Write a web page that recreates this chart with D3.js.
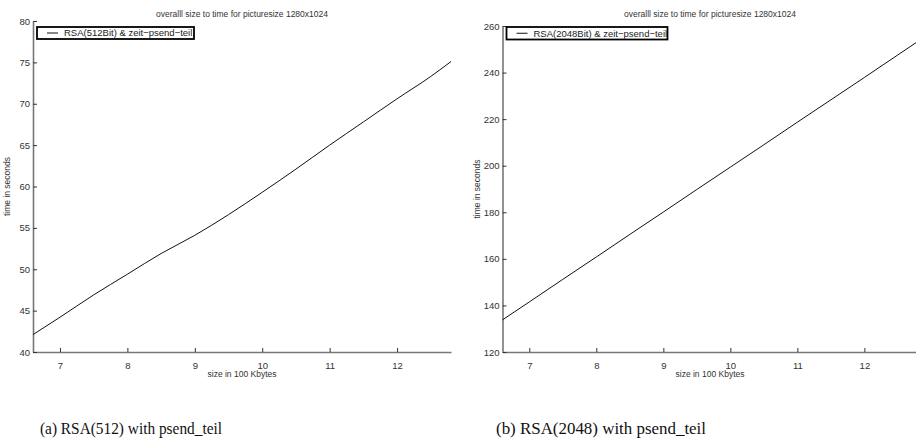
<!DOCTYPE html>
<html><head><meta charset="utf-8">
<script src="https://cdn.jsdelivr.net/npm/d3@7"></script>
<style>body{margin:0;background:#fff}svg{display:block}</style>
</head><body>
<script>
const titleText = "overalll size to time for picturesize 1280x1024";
const xLabel = "size in 100 Kbytes";
const yLabel = "time in seconds";
const xTicks = [7, 8, 9, 10, 11, 12];
const sizes = [6.6, 7, 7.5, 8, 8.5, 9, 9.5, 10, 10.5, 11, 11.5, 12, 12.5, 12.8];
const rsa512 = [42.1, 44.2, 46.9, 49.4, 51.9, 54.1, 56.6, 59.3, 62.1, 65.0, 67.8, 70.6, 73.3, 75.1];
const rsa2048 = [133.8, 141.5, 151.2, 160.8, 170.5, 180.1, 189.8, 199.4, 209.0, 218.7, 228.3, 237.9, 247.6, 253.4];
const yTicks512 = [40, 45, 50, 55, 60, 65, 70, 75, 80];
const yTicks2048 = [120, 140, 160, 180, 200, 220, 240, 260];
const legends = ["RSA(512Bit) & zeit\u2212psend\u2212teil", "RSA(2048Bit) & zeit\u2212psend\u2212teil"];
const captions = ["(a) RSA(512) with psend_teil", "(b) RSA(2048) with psend_teil"];

const W = 916, H = 443;
const svg = d3.select("body").append("svg").attr("width", W).attr("height", H);
const sans = "'Liberation Sans', Arial, sans-serif";

const panels = [
  {x0: 33, x1: 451, top: 21, bottom: 352, ydom: [40, 80], yt: yTicks512, data: rsa512, leg: legends[0], legBox: [37, 27, 157, 12], cap: captions[0], capX: 40, capW: 182, xlab: 242},
  {x0: 502.5, x1: 918, top: 26, bottom: 352, ydom: [120, 260], yt: yTicks2048, data: rsa2048, leg: legends[1], legBox: [506.5, 27, 161, 12.5], cap: captions[1], capX: 496, capW: 210, xlab: 710}
];

panels.forEach(p => {
  const x = d3.scaleLinear().domain([6.6, 12.8]).range([p.x0, p.x1]);
  const y = d3.scaleLinear().domain(p.ydom).range([p.bottom, p.top]);
  const g = svg.append("g");

  g.append("text").attr("x", p.xlab).attr("y", 17)
    .attr("text-anchor", "middle").attr("font-family", sans).attr("font-size", 8.5)
    .attr("fill", "#333").text(titleText);

  const xa = g.append("g").attr("transform", `translate(0,${p.bottom})`)
    .call(d3.axisTop(x).tickValues(xTicks).tickSize(4).tickSizeOuter(0).tickFormat(d3.format("d")));
  xa.select(".domain").attr("stroke", "#777").attr("stroke-width", 1.6);
  xa.selectAll(".tick line").attr("stroke", "#333");
  xa.selectAll(".tick text").attr("y", 10).attr("dy", "0.71em").attr("font-family", sans)
    .attr("font-size", 9.5).attr("fill", "#333");

  const ya = g.append("g").attr("transform", `translate(${p.x0},0)`)
    .call(d3.axisRight(y).tickValues(p.yt).tickSize(4).tickSizeOuter(0));
  ya.select(".domain").attr("stroke", "#777").attr("stroke-width", 1.6);
  ya.selectAll(".tick line").attr("stroke", "#333");
  ya.selectAll(".tick text").attr("x", -3).attr("text-anchor", "end").attr("font-family", sans)
    .attr("font-size", 9.5).attr("fill", "#333");

  g.append("text").attr("x", p.xlab).attr("y", 377)
    .attr("text-anchor", "middle").attr("font-family", sans).attr("font-size", 8.5)
    .attr("fill", "#333").text(xLabel);
  g.append("text").attr("transform", `translate(${p.x0 - 23},${(p.top + p.bottom) / 2}) rotate(-90)`)
    .attr("text-anchor", "middle").attr("font-family", sans).attr("font-size", 8.5)
    .attr("fill", "#333").text(yLabel);

  const line = d3.line().x((d, i) => x(sizes[i])).y(d => y(d)).curve(d3.curveMonotoneX);
  g.append("path").datum(p.data).attr("d", line).attr("fill", "none")
    .attr("stroke", "#111").attr("stroke-width", 1);

  const [lx, ly, lw, lh] = p.legBox;
  g.append("rect").attr("x", lx).attr("y", ly).attr("width", lw).attr("height", lh)
    .attr("fill", "#fff").attr("stroke", "#000").attr("stroke-width", 1.8);
  g.append("line").attr("x1", lx + 10).attr("x2", lx + 21).attr("y1", ly + lh / 2).attr("y2", ly + lh / 2)
    .attr("stroke", "#111").attr("stroke-width", 1);
  g.append("text").attr("x", lx + 27).attr("y", ly + lh / 2).attr("dy", "0.35em")
    .attr("font-family", sans).attr("font-size", 9.5).attr("fill", "#222").text(p.leg);

  g.append("text").attr("x", p.capX).attr("y", 434)
    .attr("font-family", "'Liberation Serif', 'DejaVu Serif', serif").attr("font-size", 17)
    .attr("textLength", p.capW).attr("lengthAdjust", "spacingAndGlyphs")
    .attr("fill", "#111").text(p.cap);
});
</script>
</body></html>
